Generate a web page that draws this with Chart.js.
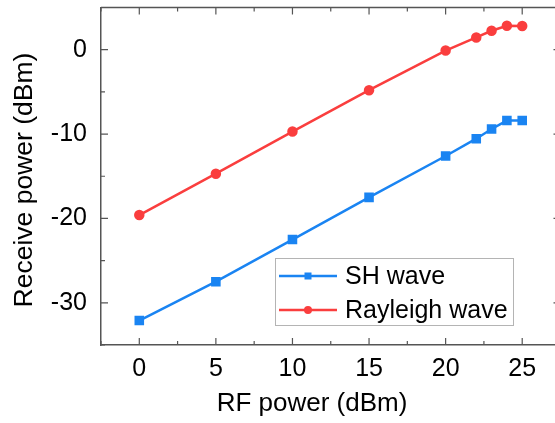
<!DOCTYPE html>
<html lang="en">
<head>
<meta charset="utf-8">
<title>Receive power vs RF power</title>
<script src="https://cdn.jsdelivr.net/npm/chart.js"></script>
<style>
  html, body { margin: 0; padding: 0; overflow: hidden; background: #fff; }
  #wrap { width: 568px; height: 423px; }
</style>
</head>
<body>
<div id="wrap"><canvas id="chart" width="568" height="423"></canvas></div>
<script>
  // values
  const rfPower = [0, 5, 10, 15, 20, 22, 23, 24, 25];
  const shWave = [-32.1, -27.5, -22.5, -17.5, -12.6, -10.55, -9.4, -8.4, -8.4];
  const rayleighWave = [-19.6, -14.7, -9.7, -4.8, -0.1, 1.45, 2.24, 2.83, 2.8];
  const xTicks = [0, 5, 10, 15, 20, 25];
  const yTicks = [-30, -20, -10, 0];

  const FONT = "'Liberation Sans', Arial, sans-serif";
  const AXIS = '#555';

  const toPoints = ys => rfPower.map((x, i) => ({ x: x, y: ys[i] }));

  // inward ticks, top/right frame, legend box and axis titles
  const framePlugin = {
    id: 'frame',
    afterDraw(chart) {
      const { ctx, chartArea: a, scales } = chart;
      const xs = scales.x, ys = scales.y;
      ctx.save();
      ctx.strokeStyle = AXIS;
      ctx.lineWidth = 1.5;
      ctx.beginPath();
      ctx.moveTo(a.left, a.top); ctx.lineTo(a.right, a.top); ctx.lineTo(a.right, a.bottom);
      ctx.stroke();

      ctx.lineWidth = 1.2;
      ctx.beginPath();
      for (let v = -2.5; v <= 27.5; v += 2.5) {
        const major = v % 5 === 0;
        const len = major ? 7 : 4;
        const px = xs.getPixelForValue(v);
        ctx.moveTo(px, a.bottom); ctx.lineTo(px, a.bottom - len);
        ctx.moveTo(px, a.top); ctx.lineTo(px, a.top + len);
      }
      for (let v = -35; v <= 5; v += 5) {
        const major = v % 10 === 0;
        const len = major ? 7 : 4;
        const py = ys.getPixelForValue(v);
        ctx.moveTo(a.left, py); ctx.lineTo(a.left + len, py);
        ctx.moveTo(a.right, py); ctx.lineTo(a.right - len, py);
      }
      ctx.stroke();

      // legend
      const bx = 275, by = 258, bw = 238, bh = 67;
      ctx.fillStyle = '#fff';
      ctx.fillRect(bx, by, bw, bh);
      ctx.strokeStyle = '#b4b4b4';
      ctx.lineWidth = 1;
      ctx.strokeRect(bx + 0.5, by + 0.5, bw, bh);
      chart.data.datasets.forEach((ds, i) => {
        const cy = by + 18 + i * 34;
        ctx.strokeStyle = ds.borderColor;
        ctx.lineWidth = 2.5;
        ctx.beginPath();
        ctx.moveTo(bx + 4, cy); ctx.lineTo(bx + 62, cy);
        ctx.stroke();
        ctx.fillStyle = ds.borderColor;
        if (ds.pointStyle === 'rect') {
          ctx.fillRect(bx + 29.5, cy - 3.5, 7, 7);
        } else {
          ctx.beginPath(); ctx.arc(bx + 33, cy, 4, 0, Math.PI * 2); ctx.fill();
        }
        ctx.fillStyle = '#000';
        ctx.font = '25px ' + FONT;
        ctx.textBaseline = 'middle';
        ctx.textAlign = 'left';
        ctx.fillText(ds.label, bx + 70, cy + 1);
      });

      // axis titles
      ctx.fillStyle = '#000';
      ctx.font = '26px ' + FONT;
      ctx.textAlign = 'center';
      ctx.textBaseline = 'middle';
      ctx.fillText('RF power (dBm)', 312, 404);
      ctx.translate(25, 180);
      ctx.rotate(-Math.PI / 2);
      ctx.font = '26.5px ' + FONT;
      ctx.fillText('Receive power (dBm)', 0, 0);
      ctx.restore();
    }
  };

  new Chart(document.getElementById('chart').getContext('2d'), {
    type: 'line',
    data: {
      datasets: [{
        label: 'SH wave',
        data: toPoints(shWave),
        borderColor: '#1a84f2',
        backgroundColor: '#1a84f2',
        borderWidth: 2.5,
        pointStyle: 'rect',
        pointRadius: 5,
        pointHoverRadius: 5,
        tension: 0
      }, {
        label: 'Rayleigh wave',
        data: toPoints(rayleighWave),
        borderColor: '#fa3e3e',
        backgroundColor: '#fa3e3e',
        borderWidth: 2.5,
        pointStyle: 'circle',
        pointRadius: 4,
        pointHoverRadius: 4,
        tension: 0
      }]
    },
    options: {
      responsive: false,
      animation: false,
      layout: { padding: { top: 4, right: 0, left: 0, bottom: 0 } },
      plugins: { legend: { display: false }, tooltip: { enabled: false } },
      scales: {
        x: {
          type: 'linear',
          min: -2.5,
          max: 27.5,
          afterBuildTicks: s => { s.ticks = xTicks.map(v => ({ value: v })); },
          afterFit: s => { s.height = 78; s.paddingLeft = 0; s.paddingRight = 0; },
          grid: { drawOnChartArea: false, drawTicks: false },
          border: { display: true, color: AXIS, width: 1.5 },
          ticks: { color: '#000', font: { family: FONT, size: 25 }, padding: 9, maxRotation: 0 }
        },
        y: {
          type: 'linear',
          min: -35,
          max: 5,
          afterBuildTicks: s => { s.ticks = yTicks.map(v => ({ value: v })); },
          afterFit: s => { s.width = 101; s.paddingTop = 0; s.paddingBottom = 0; },
          grid: { drawOnChartArea: false, drawTicks: false },
          border: { display: true, color: AXIS, width: 1.5 },
          ticks: { color: '#000', font: { family: FONT, size: 25 }, padding: 14 }
        }
      }
    },
    plugins: [framePlugin]
  });
</script>
</body>
</html>
